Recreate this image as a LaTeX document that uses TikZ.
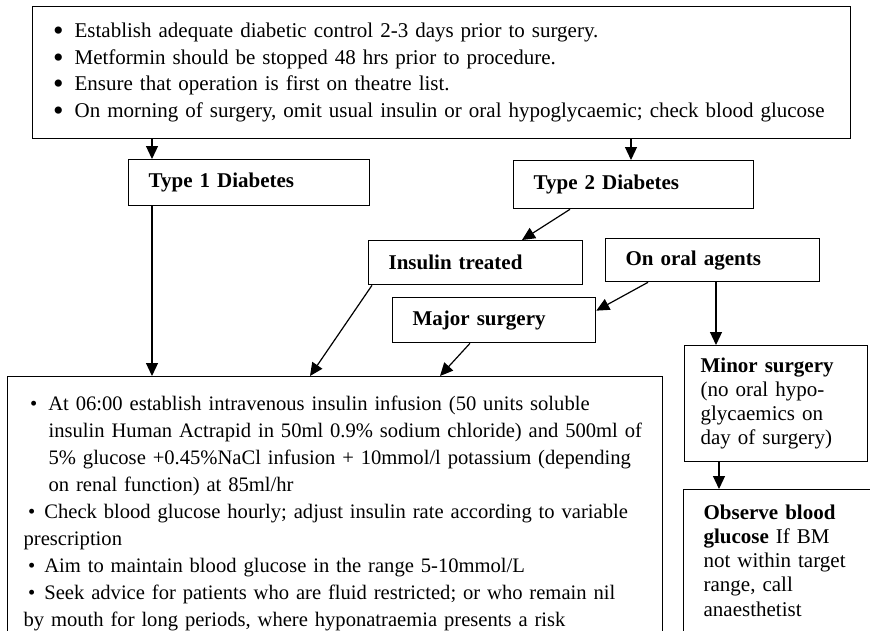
\documentclass[tikz,border=0pt]{standalone}
\usepackage{fontspec}
\setmainfont{Liberation Serif}
\usetikzlibrary{arrows.meta}

\newcommand{\topbul}{\smash{\raisebox{-3pt}{\fontsize{30}{0}\selectfont\textbullet}}}

\begin{document}
\begin{tikzpicture}[
    x=1pt, y=-1pt,
    box/.style={
        draw, rectangle, line width=1.3pt, anchor=north west, align=left,
        inner ysep=0pt, font=\fontsize{21}{27}\selectfont
    },
    labelbox/.style={
        box, inner xsep=20pt, font=\bfseries\fontsize{21}{27}\selectfont
    },
    line/.style={draw, line width=1.2pt, -{Triangle[length=13pt, width=12pt]}}
]
    \useasboundingbox (0,0) rectangle (870,630);
    \clip (0,0) rectangle (870,630);

    \node[box, font=\fontsize{21}{26.5}\selectfont, inner xsep=20.5pt,
          text width=777pt, minimum height=132pt] (prep) at (32,6) {%
        \topbul\hspace{11pt}Establish adequate diabetic control 2-3 days prior to surgery.\\
        \topbul\hspace{11pt}Metformin should be stopped 48 hrs prior to procedure.\\
        \topbul\hspace{11pt}Ensure that operation is first on theatre list.\\
        \topbul\hspace{11pt}On morning of surgery, omit usual insulin or oral hypoglycaemic; check blood glucose};

    \node[labelbox, text width=201pt, minimum height=46pt] (t1) at (128,159) {Type 1 Diabetes};
    \node[labelbox, text width=200pt, minimum height=48pt] (t2) at (513,160) {Type 2 Diabetes};
    \node[labelbox, text width=174pt, minimum height=44pt] (ins) at (368,240) {Insulin treated};
    \node[labelbox, text width=174pt, minimum height=43pt] (oral) at (605,238) {On oral agents};
    \node[labelbox, text width=163pt, minimum height=45pt] (major) at (392,297) {Major surgery};

    % main regimen box runs past the lower edge
    \node[box, font=\fontsize{20.6}{27.1}\selectfont, inner xsep=16pt, inner ysep=19pt,
          text width=623pt] (main) at (7,376) {%
        \hspace*{6.5pt}\textbullet\hspace{11pt}At 06:00 establish intravenous insulin infusion (50 units soluble\\
        \hspace*{25pt}\makebox[0pt][l]{insulin Human Actrapid in 50ml 0.9\% sodium chloride) and 500ml of}\\
        \hspace*{25pt}5\% glucose +0.45\%NaCl infusion + 10mmol/l potassium (depending\\
        \hspace*{25pt}on renal function) at 85ml/hr\\
        \hspace*{4.5pt}\textbullet\hspace{9pt}Check blood glucose hourly; adjust insulin rate according to variable\\
        prescription\\
        \hspace*{4.5pt}\textbullet\hspace{9pt}Aim to maintain blood glucose in the range 5-10mmol/L\\
        \hspace*{4.5pt}\textbullet\hspace{9pt}Seek advice for patients who are fluid restricted; or who remain nil\\
        by mouth for long periods, where hyponatraemia presents a risk\\
        \strut};

    \node[box, font=\fontsize{21}{24}\selectfont, inner xsep=16pt,
          text width=151pt, minimum height=116pt] (minor) at (684,345) {%
        \textbf{Minor surgery}\\
        (no oral hypo-\\
        glycaemics on\\
        day of surgery)};

    \node[box, font=\fontsize{21}{24.2}\selectfont, inner xsep=20pt, inner ysep=15pt,
          text width=160pt] (obs) at (683,489) {%
        \textbf{Observe blood}\\
        \textbf{glucose} If BM\\
        not within target\\
        range, call\\
        anaesthetist\\
        \strut};

    \coordinate (a1) at ([xshift=24pt]t1.north west);
    \coordinate (a2) at ([xshift=111pt]oral.south west);
    \coordinate (a3) at ([xshift=35pt]minor.south west);
    \coordinate (a4) at ([xshift=118pt]t2.north west);

    \draw[line] (a1 |- prep.south) -- (a1);
    \draw[line] (a4 |- prep.south) -- (a4);
    \draw[line] (a1 |- t1.south) -- (a1 |- main.north);
    \draw[line] ([xshift=57pt]t2.south west) -- ([xshift=154pt]ins.north west);
    \draw[line] ([xshift=4pt]ins.south west) -- ([xshift=303pt]main.north west);
    \draw[line] ([xshift=43pt]oral.south west) -- ([yshift=9.5pt]major.east);
    \draw[line] (a2) -- (a2 |- minor.north);
    \draw[line] ([xshift=78pt]major.south west) -- ([xshift=433pt]main.north west);
    \draw[line] (a3) -- (a3 |- obs.north);
\end{tikzpicture}
\end{document}
